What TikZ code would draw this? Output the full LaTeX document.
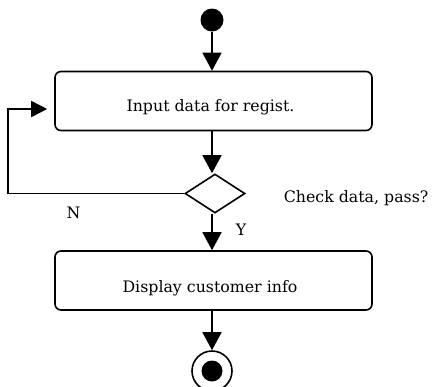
\documentclass[tikz,border=0pt]{standalone}
\usepackage{fontspec}
\setmainfont{DejaVu Serif}
\usetikzlibrary{arrows.meta,shapes.geometric}
\begin{document}
\begin{tikzpicture}[x=1pt,y=-1pt,
  line width=1.6pt,
  flow/.style={-{Triangle[length=18pt,width=19pt]}},
  back/.style={-{Triangle[length=16pt,width=16pt]}},
  actbox/.style={draw,rounded corners=6pt,minimum width=317pt,minimum height=59pt,inner sep=0pt},
  decide/.style={draw,diamond,minimum width=60pt,minimum height=39pt,inner sep=0pt,aspect=1.54},
  lbl/.style={font=\fontsize{15.8}{18}\selectfont,inner sep=0pt}]
\useasboundingbox (0,0) rectangle (434,386);
\node[circle,fill,minimum size=23pt,inner sep=0pt] (start) at (212,20) {};
\node[actbox] (box1) at (213.5,101) {};
\node[lbl,anchor=base] (t1) at (210.5,111) {Input data for regist.};
\node[decide] (dia) at (215,193.5) {};
\node[actbox] (box2) at (213.5,280.5) {};
\node[lbl,anchor=base] (t2) at (210,292) {Display customer info};
\node[circle,draw,minimum size=40pt,inner sep=0pt] (end) at (212,371) {};
\node[circle,fill,minimum size=21pt,inner sep=0pt] (endin) at (end.center) {};
\coordinate (lp) at (8,109);
\node[lbl,anchor=base west] (chk) at (283,202) {Check data, pass?};
\node[lbl,anchor=base] (ntext) at (73.5,218) {N};
\node[lbl,anchor=base] (ytext) at (241,235) {Y};
\draw[flow] (start.south) -- (start.south |- box1.north);
\draw[flow] (box1.south -| start) -- (dia.north -| start);
\draw[flow] (dia.south -| start) -- (box2.north -| start);
\draw[flow] (box2.south -| start) -- (end.north);
\draw[back,shorten >=7pt] (dia.west) -| (lp) -- (lp -| box1.west);
\end{tikzpicture}
\end{document}
